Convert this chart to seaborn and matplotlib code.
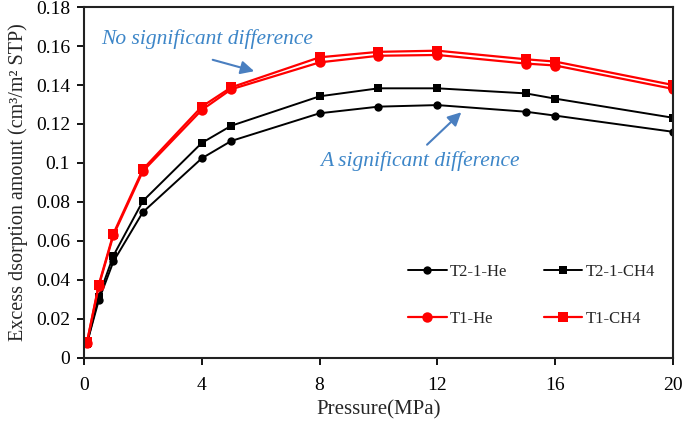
import matplotlib
matplotlib.use("Agg")
import matplotlib.pyplot as plt
import seaborn as sns
import pandas as pd

pressure = [0.1, 0.5, 1, 2, 4, 5, 8, 10, 12, 15, 16, 20]
t2_he = [0.0075, 0.0295, 0.0495, 0.0748, 0.1024, 0.1113, 0.1255, 0.1289, 0.1297, 0.1263, 0.1243, 0.1160]
t2_ch4 = [0.0072, 0.0315, 0.0525, 0.0805, 0.1103, 0.1191, 0.1342, 0.1383, 0.1383, 0.1357, 0.1330, 0.1232]
t1_he = [0.0079, 0.0368, 0.0630, 0.0958, 0.1272, 0.1378, 0.1516, 0.1550, 0.1554, 0.1510, 0.1500, 0.1380]
t1_ch4 = [0.0080, 0.0375, 0.0638, 0.0968, 0.1289, 0.1388, 0.1542, 0.1570, 0.1576, 0.1532, 0.1520, 0.1400]

series_names = ["T2-1-He", "T2-1-CH4", "T1-He", "T1-CH4"]
series_vals = [t2_he, t2_ch4, t1_he, t1_ch4]
xticks = [0, 4, 8, 12, 16, 20]
yticks = [0, 0.02, 0.04, 0.06, 0.08, 0.1, 0.12, 0.14, 0.16, 0.18]
ytick_labels = ["0", "0.02", "0.04", "0.06", "0.08", "0.1", "0.12", "0.14", "0.16", "0.18"]

rows = []
for name, vals in zip(series_names, series_vals):
    for p, v in zip(pressure, vals):
        rows.append({"Pressure": p, "Amount": v, "Series": name})
df = pd.DataFrame(rows)

sns.set_style("ticks")
plt.rcParams["font.family"] = ["Liberation Serif", "DejaVu Serif"]

fig = plt.figure(figsize=(6.85, 4.22), dpi=100)
ax = fig.add_axes([0.1226, 0.1517, 0.8599, 0.8317])

styles = {
    "T2-1-He": dict(color="black", marker="o", ms=6, lw=1.4),
    "T2-1-CH4": dict(color="black", marker="s", ms=6, lw=1.4),
    "T1-He": dict(color="#ff0000", marker="o", ms=7.5, lw=1.6),
    "T1-CH4": dict(color="#ff0000", marker="s", ms=7, lw=1.6),
}
for name in series_names:
    st = styles[name]
    sns.lineplot(data=df[df["Series"] == name], x="Pressure", y="Amount", ax=ax,
                 color=st["color"], marker=st["marker"], markersize=st["ms"],
                 markeredgewidth=0, linewidth=st["lw"], label=name)

ax.set_xlim(0, 20)
ax.set_ylim(0, 0.18)
ax.set_xticks(xticks)
ax.set_xticklabels([str(t) for t in xticks])
ax.set_yticks(yticks)
ax.set_yticklabels(ytick_labels)
ax.tick_params(axis="both", direction="out", length=5, width=1.3, labelsize=14, colors="black")
ax.tick_params(axis="x", pad=9)
ax.tick_params(axis="y", pad=5)
for s in ax.spines.values():
    s.set_visible(True)
    s.set_linewidth(1.5)
    s.set_color("#222222")

ax.set_xlabel("Pressure(MPa)", fontsize=15, labelpad=4)
ax.set_ylabel("Excess dsorption amount (cm\u00b3/m\u00b2 STP)", fontsize=14.5, labelpad=6)

handles, labels = ax.get_legend_handles_labels()
order = [labels.index(n) for n in ["T2-1-He", "T1-He", "T2-1-CH4", "T1-CH4"]]
leg = ax.legend([handles[i] for i in order], [labels[i] for i in order],
                ncol=2, frameon=False, loc="lower right", bbox_to_anchor=(0.995, 0.045),
                fontsize=12, handlelength=2.3, handletextpad=0.2, columnspacing=2.2,
                labelspacing=1.9)

blue = "#3d86c8"
ax.text(4.18, 0.1635, "No significant difference", color=blue, fontsize=15.5,
        style="italic", ha="center", va="center")
ax.annotate("", xy=(5.87, 0.1467), xytext=(4.28, 0.1533),
            arrowprops=dict(arrowstyle="-|>", color="#4a7fc0", lw=1.5, mutation_scale=20))
ax.text(11.4, 0.101, "A significant difference", color=blue, fontsize=15.5,
        style="italic", ha="center", va="center")
ax.annotate("", xy=(12.88, 0.127), xytext=(11.58, 0.1084),
            arrowprops=dict(arrowstyle="-|>", color="#4a7fc0", lw=1.5, mutation_scale=20))

fig.savefig("out.png", dpi=100)
